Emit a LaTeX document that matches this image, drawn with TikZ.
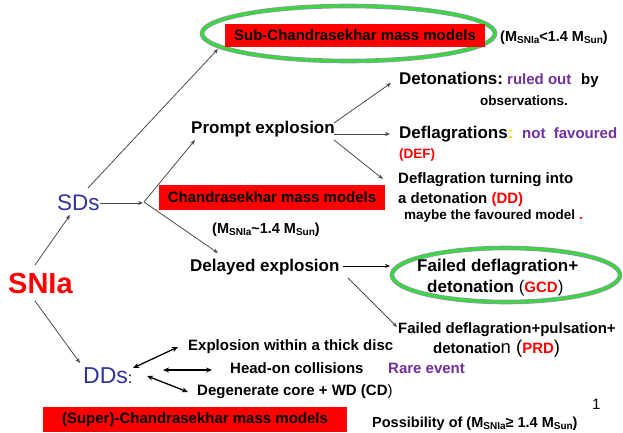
\documentclass[tikz,border=0pt]{standalone}
\usepackage{fontspec}
\setmainfont{Liberation Sans}
\usetikzlibrary{arrows.meta,shapes.geometric}
\definecolor{sred}{HTML}{FF0000}
\definecolor{spurple}{HTML}{7030A0}
\definecolor{sblue}{HTML}{333399}
\definecolor{syellow}{HTML}{EEEE00}
\definecolor{sgreen}{HTML}{33DD33}
\definecolor{sgray}{HTML}{8A9AAA}
\newcommand\myfs[1]{\fontsize{#1}{#1}\selectfont}
\newcommand\msub[1]{\raisebox{-2.5pt}{\myfs{10}#1}}
\begin{document}
\begin{tikzpicture}[x=1pt,y=-1pt,
 txt/.style={inner sep=0pt, anchor=base west},
 big/.style={txt, font=\bfseries\myfs{17}},
 arr/.style={draw=black!70, line width=0.8pt, -{Stealth[length=5pt,width=4pt]}},
 darr/.style={draw=black, line width=1.3pt, {Stealth[length=6pt,width=5pt]}-{Stealth[length=6pt,width=5pt]}},
 redbox/.style={fill=sred, inner sep=0pt, font=\bfseries\myfs{15}},
 glow/.style={ellipse, draw=sgray, double=sgreen, double distance=2.6pt, line width=1pt, inner sep=0pt}]
\useasboundingbox[fill=white] (0,0) rectangle (623,432);

% ellipses and red boxes
\node[glow, minimum width=293, minimum height=55] (topell) at (348.5,33.5) {};
\node[redbox, minimum width=260, minimum height=23] (subbox) at (355,35.5) {Sub-Chandrasekhar mass models};
\node[txt] (msub1) at (500,41) {\bfseries\myfs{14.5}(M\msub{SNIa}<1.4 M\msub{Sun})};

\node[redbox, minimum width=226, minimum height=25] (chbox) at (272,197.5) {Chandrasekhar mass models};
\node[txt] (msub2) at (212,233) {\bfseries\myfs{14.5}(M\msub{SNIa}\textasciitilde1.4 M\msub{Sun})};

\node[glow, minimum width=228, minimum height=54] (gcdell) at (506,275) {};
\node[redbox, minimum width=304, minimum height=25] (supbox) at (195,419.5) {(Super)-Chandrasekhar mass models};

% main texts
\node[txt, text=sred, font=\bfseries\myfs{29}] (snia) at (8,293) {SNIa};
\node[txt, text=sblue, font=\myfs{22.5}] (sds) at (57,210) {SDs};
\node[txt, font=\myfs{23}] (dds) at (83,383) {\textcolor{sblue}{DDs}{\myfs{16}:}};
\node[big] (prompt) at (191,133) {Prompt explosion};
\node[big] (delayed) at (190,271) {Delayed explosion};

\node[big] (det) at (399,84) {Detonations:};
\node[txt, text=spurple, font=\bfseries\myfs{15}] (ruled) at (507,84) {ruled out};
\node[txt, font=\bfseries\myfs{15}] (by) at (581,84) {by};
\node[txt, font=\bfseries\myfs{13.5}] (obs) at (480,105) {observations.};

\node[big] (defl) at (399,138) {Deflagrations\textcolor{syellow}{:}};
\node[txt, text=spurple, font=\bfseries\myfs{15}] (notfav) at (522,138) {not\ \ favoured};
\node[txt, text=sred, font=\bfseries\myfs{13.5}] (def) at (399,158) {(DEF)};

\node[txt, font=\bfseries\myfs{15}] (dd1) at (398,183) {Deflagration turning into};
\node[txt, font=\bfseries\myfs{15}] (dd2) at (398,203) {a detonation \textcolor{sred}{(DD)}};
\node[txt, font=\bfseries\myfs{13.5}] (dd3) at (404,219) {maybe the favoured model \textcolor{sred}{.}};

\node[big] (gcd1) at (417,271) {Failed deflagration+};
\node[big] (gcd2) at (427,292) {detonation {\mdseries(}\textcolor{sred}{\myfs{15}GCD}{\mdseries)}};

\node[txt, font=\bfseries\myfs{15}] (prd1) at (398,333) {Failed deflagration+pulsation+};
\node[txt, font=\bfseries\myfs{15}] (prd2) at (433,353) {detonatio{\mdseries\myfs{18.5}n (}\textcolor{sred}{PRD}{\mdseries\myfs{18.5})}};

\node[txt, font=\bfseries\myfs{15}] (expl) at (188,350) {Explosion within a thick disc};
\node[txt, font=\bfseries\myfs{15}] (head) at (230,373) {Head-on collisions};
\node[txt, text=spurple, font=\bfseries\myfs{15}] (rare) at (388,373) {Rare event};
\node[txt, font=\bfseries\myfs{15}] (degen) at (197,395) {Degenerate core + WD (CD{\mdseries)}};

\node[txt, font=\bfseries\myfs{14.5}] (poss) at (372,427) {Possibility of (M\msub{SNIa}≥ 1.4 M\msub{Sun})};
\node[txt, font=\myfs{15}] (one) at (592,409) {1};

% connector end points
\coordinate (sniaUp) at (35,265);
\coordinate (sniaDown) at (35,301);
\coordinate (sdsIn) at (70,215);
\coordinate (ddsIn) at (80,363);
\coordinate (sdsOut) at (100,203);
\coordinate (sdsUp) at (88,188);
\coordinate (junc) at (144,202);
\coordinate (junc2) at (143,203);
\coordinate (promptIn) at (195,140);
\coordinate (delayIn) at (218,253);
\coordinate (topIn) at (218,49);
\coordinate (pOut1) at (334,123);
\coordinate (pOut2) at (334,134);
\coordinate (pOut3) at (334,140);
\coordinate (detIn) at (391,83);
\coordinate (deflIn) at (390,134);
\coordinate (ddIn) at (383,179);
\coordinate (dOut1) at (343,266);
\coordinate (gcdIn) at (390,266);
\coordinate (dOut2) at (348,278);
\coordinate (prdIn) at (397,327);
\coordinate (ddsA) at (133,368);
\coordinate (explIn) at (178,347);
\coordinate (headA) at (163,370);
\coordinate (headB) at (212,370);
\coordinate (ddsC) at (147,376);
\coordinate (degIn) at (188,392);

% connectors
\draw[arr] (sniaUp) -- (sdsIn);
\draw[arr] (sniaDown) -- (ddsIn);
\draw[arr] (sdsOut) -- (junc2);
\draw[arr] (sdsUp) -- (topIn);
\draw[arr] (junc) -- (promptIn);
\draw[arr] (junc) -- (delayIn);
\draw[arr] (pOut1) -- (detIn);
\draw[arr] (pOut2) -- (deflIn);
\draw[arr] (pOut3) -- (ddIn);
\draw[arr, draw=black, line width=1pt] (dOut1) -- (gcdIn);
\draw[arr] (dOut2) -- (prdIn);
\draw[darr] (ddsA) -- (explIn);
\draw[darr] (headA) -- (headB);
\draw[darr] (ddsC) -- (degIn);
\end{tikzpicture}
\end{document}
